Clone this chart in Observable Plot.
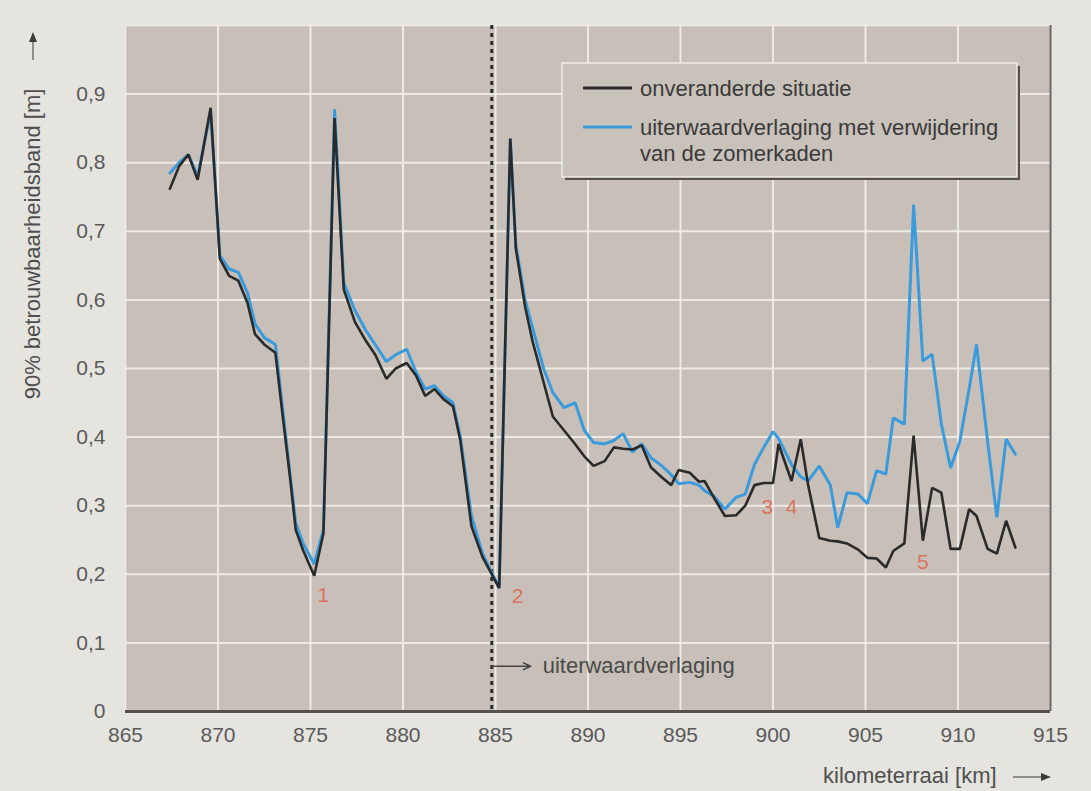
<!DOCTYPE html>
<html>
<head>
<meta charset="utf-8">
<script src="https://cdn.jsdelivr.net/npm/d3@7"></script>
<script src="https://cdn.jsdelivr.net/npm/@observablehq/plot@0.6"></script>
<style>
  html, body { margin: 0; padding: 0; background: #e5e4df; }
  #chart { position: relative; width: 1091px; height: 791px; }
  svg { display: block; }
</style>
</head>
<body>
<div id="chart"></div>
<script>
// Kilometerraai (km) along the river
const km = [
  867.4, 867.9, 868.4, 868.9, 869.6, 870.1, 870.6, 871.1, 871.6, 872.0,
  872.5, 873.1, 873.5, 873.9, 874.2, 874.6, 875.2, 875.7, 876.3, 876.8,
  877.4, 878.0, 878.5, 879.1, 879.6, 880.2, 880.7, 881.2, 881.7, 882.2,
  882.7, 883.1, 883.7, 884.3, 885.2, 885.8, 886.1, 886.6, 887.0, 887.6,
  888.1, 888.7, 889.3, 889.8, 890.3, 890.9, 891.4, 891.9, 892.4, 892.9,
  893.4, 894.0, 894.5, 894.9, 895.5, 896.0, 896.3, 896.8, 897.4, 898.0,
  898.5, 899.0, 899.5, 900.0, 900.3, 901.0, 901.5, 901.9, 902.5, 903.1,
  903.5, 904.0, 904.6, 905.1, 905.6, 906.1, 906.5, 907.1, 907.6, 908.1,
  908.6, 909.1, 909.6, 910.1, 910.6, 911.0, 911.6, 912.1, 912.6, 913.1
];

// 90% betrouwbaarheidsband [m] – onveranderde situatie
const onveranderd = [
  0.762, 0.795, 0.812, 0.775, 0.880, 0.660, 0.635, 0.628, 0.595, 0.550,
  0.535, 0.523, 0.430, 0.340, 0.265, 0.235, 0.198, 0.260, 0.865, 0.615,
  0.568, 0.540, 0.520, 0.485, 0.500, 0.508, 0.490, 0.460, 0.470, 0.455,
  0.445, 0.395, 0.270, 0.225, 0.180, 0.835, 0.675, 0.590, 0.540, 0.480,
  0.430, 0.410, 0.390, 0.372, 0.358, 0.365, 0.385, 0.383, 0.382, 0.388,
  0.356, 0.341, 0.330, 0.352, 0.348, 0.335, 0.336, 0.312, 0.285, 0.286,
  0.300, 0.330, 0.333, 0.333, 0.390, 0.336, 0.397, 0.330, 0.253, 0.249,
  0.248, 0.245, 0.236, 0.224, 0.223, 0.210, 0.234, 0.245, 0.402, 0.249,
  0.326, 0.319, 0.237, 0.237, 0.295, 0.285, 0.237, 0.230, 0.278, 0.239
];

// 90% betrouwbaarheidsband [m] – uiterwaardverlaging met verwijdering van de zomerkaden
const verlaging = [
  0.785, 0.800, 0.812, 0.780, 0.875, 0.665, 0.645, 0.640, 0.610, 0.565,
  0.545, 0.535, 0.440, 0.345, 0.275, 0.245, 0.215, 0.265, 0.878, 0.625,
  0.585, 0.555, 0.535, 0.510, 0.520, 0.528, 0.495, 0.470, 0.475, 0.460,
  0.450, 0.400, 0.285, 0.230, 0.180, 0.835, 0.680, 0.600, 0.560, 0.500,
  0.465, 0.443, 0.450, 0.410, 0.392, 0.390, 0.395, 0.405, 0.378, 0.390,
  0.370, 0.358, 0.345, 0.332, 0.334, 0.330, 0.322, 0.314, 0.295, 0.312,
  0.317, 0.360, 0.385, 0.408, 0.398, 0.360, 0.342, 0.336, 0.358, 0.330,
  0.268, 0.319, 0.317, 0.303, 0.351, 0.346, 0.428, 0.419, 0.739, 0.511,
  0.521, 0.419, 0.355, 0.394, 0.470, 0.535, 0.394, 0.283, 0.397, 0.375
];

// Numbered locations
const puntLabels = ["1", "2", "3", "4", "5"];
const puntKm     = [875.7, 886.2, 899.7, 901.0, 908.1];
const puntWaarde = [0.170, 0.168, 0.298, 0.298, 0.217];

// Start of the floodplain lowering
const startVerlaging = 884.8;
const verlagingTekst = "uiterwaardverlaging";

const xTicks = [865, 870, 875, 880, 885, 890, 895, 900, 905, 910, 915];
const yTicks = [0, 0.1, 0.2, 0.3, 0.4, 0.5, 0.6, 0.7, 0.8, 0.9];

const legendItems = ["onveranderde situatie", "uiterwaardverlaging met verwijdering", "van de zomerkaden"];
const yTitle = "90% betrouwbaarheidsband [m]";
const xTitle = "kilometerraai [km]";

const kleurZwart = "#2a2a2a";
const kleurBlauw = "#3a9bdc";
const kleurRood = "#d9735e";
const font = "'Liberation Sans', Arial, Helvetica, sans-serif";

const rows = km.map((k, i) => ({km: k, onveranderd: onveranderd[i], verlaging: verlaging[i]}));
const punten = puntLabels.map((t, i) => ({label: t, km: puntKm[i], waarde: puntWaarde[i]}));

const fmt = d => d === 0 ? "0" : d.toFixed(1).replace(".", ",");

const plot = Plot.plot({
  width: 1091,
  height: 791,
  marginTop: 25,
  marginLeft: 125,
  marginRight: 41,
  marginBottom: 80,
  style: {background: "transparent", fontFamily: font, fontSize: "21px", color: "#5a5a5a"},
  x: {domain: [865, 915], ticks: xTicks, tickSize: 0, tickPadding: 16, label: null, tickFormat: d => String(d)},
  y: {domain: [0, 1], ticks: yTicks, tickSize: 0, tickPadding: 20, label: null, tickFormat: fmt},
  marks: [
    Plot.frame({fill: "#c8c0b8", stroke: "#efece7", strokeWidth: 1.5}),
    Plot.gridX(xTicks.slice(1, -1), {stroke: "#f1eee9", strokeOpacity: 0.9, strokeWidth: 2}),
    Plot.gridY(yTicks.slice(1), {stroke: "#f1eee9", strokeOpacity: 0.9, strokeWidth: 2}),
    Plot.ruleY([0], {stroke: "#57524d", strokeWidth: 3}),
    Plot.ruleX([915], {stroke: "#6b6660", strokeWidth: 2}),
    Plot.ruleX([startVerlaging], {stroke: "#2e2e2e", strokeWidth: 3, strokeDasharray: "4,4"}),
    Plot.line(rows, {x: "km", y: "verlaging", stroke: kleurBlauw, strokeWidth: 3, strokeLinejoin: "miter"}),
    Plot.line(rows, {x: "km", y: "onveranderd", stroke: kleurZwart, strokeWidth: 2.6, strokeLinejoin: "miter"}),
    Plot.arrow([{x1: startVerlaging, x2: 886.9, y: 0.066}], {
      x1: "x1", x2: "x2", y1: "y", y2: "y", stroke: "#444", strokeWidth: 1.5, headLength: 8, headAngle: 50
    }),
    Plot.text([{x: 887.55, y: 0.066, t: verlagingTekst}], {
      x: "x", y: "y", text: "t", textAnchor: "start", fontSize: 22, fill: "#4a4a4a"
    }),
    Plot.text(punten, {x: "km", y: "waarde", text: "label", fontSize: 21, fill: kleurRood})
  ]
});

document.getElementById("chart").appendChild(plot);

const svg = d3.select(plot);

// Axis titles with arrows
const arrowHead = (g, x, y, dir) => {
  const pts = dir === "up"
    ? [[x, y], [x - 4, y + 10], [x + 4, y + 10]]
    : [[x, y], [x - 10, y - 4], [x - 10, y + 4]];
  g.append("polygon").attr("points", pts.map(p => p.join(",")).join(" ")).attr("fill", "#3a3a3a");
};

const titles = svg.append("g").attr("font-family", font).attr("fill", "#4e4e4e");
titles.append("text")
  .attr("transform", "translate(32,244) rotate(-90)")
  .attr("text-anchor", "middle")
  .attr("dy", "0.35em")
  .attr("font-size", 22)
  .text(yTitle);
titles.append("line").attr("x1", 33).attr("x2", 33).attr("y1", 60).attr("y2", 40)
  .attr("stroke", "#555").attr("stroke-width", 1.2);
arrowHead(titles, 33, 32, "up");

titles.append("text")
  .attr("x", 823).attr("y", 775)
  .attr("text-anchor", "start")
  .attr("dy", "0.35em")
  .attr("font-size", 22)
  .text(xTitle);
titles.append("line").attr("x1", 1013).attr("x2", 1042).attr("y1", 777).attr("y2", 777)
  .attr("stroke", "#555").attr("stroke-width", 1.2);
arrowHead(titles, 1051, 777, "right");

// Legend box
const lg = svg.append("g").attr("font-family", font).attr("text-anchor", "start");
lg.append("rect").attr("x", 565).attr("y", 66).attr("width", 455).attr("height", 114).attr("fill", "#55504b");
lg.append("rect").attr("x", 562).attr("y", 63).attr("width", 455).attr("height", 114)
  .attr("fill", "#c9c2ba").attr("stroke", "#eeebe6").attr("stroke-width", 1.5);
lg.append("line").attr("x1", 583).attr("x2", 632).attr("y1", 88).attr("y2", 88)
  .attr("stroke", kleurZwart).attr("stroke-width", 3);
lg.append("line").attr("x1", 583).attr("x2", 632).attr("y1", 127).attr("y2", 127)
  .attr("stroke", kleurBlauw).attr("stroke-width", 3);
[[88, legendItems[0]], [127, legendItems[1]], [153, legendItems[2]]].forEach(([y, t]) => {
  lg.append("text").attr("x", 640).attr("y", y).attr("dy", "0.35em")
    .attr("text-anchor", "start")
    .attr("font-size", 22).attr("fill", "#3a3a3a").text(t);
});
</script>
</body>
</html>
